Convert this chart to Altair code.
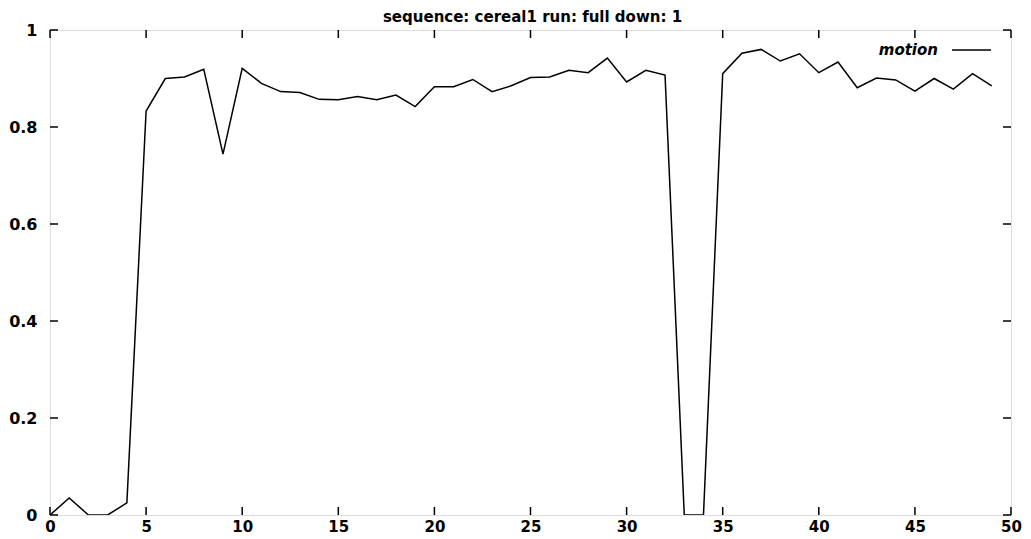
import altair as alt
import pandas as pd

frames = list(range(50))
motion = [0.0, 0.035, 0.0, 0.0, 0.025, 0.833, 0.900, 0.903, 0.919, 0.744,
          0.921, 0.890, 0.873, 0.871, 0.857, 0.856, 0.863, 0.856, 0.866, 0.842,
          0.883, 0.883, 0.898, 0.873, 0.885, 0.902, 0.903, 0.917, 0.912, 0.942,
          0.893, 0.917, 0.907, 0.0, 0.0, 0.910, 0.952, 0.960, 0.936, 0.951,
          0.912, 0.934, 0.881, 0.901, 0.897, 0.874, 0.900, 0.878, 0.910, 0.885]
x_ticks = [0, 5, 10, 15, 20, 25, 30, 35, 40, 45, 50]
y_ticks = [0, 0.2, 0.4, 0.6, 0.8, 1.0]
title_text = "sequence: cereal1 run: full down: 1"
series_name = "motion"

W, H = 961, 485
FONT = "DejaVu Sans"

df = pd.DataFrame({"frame": frames, "value": motion})
xt = pd.DataFrame({"t": x_ticks})
yt = pd.DataFrame({"t": y_ticks})

xscale = alt.Scale(domain=[0, 50], nice=False, zero=False)
yscale = alt.Scale(domain=[0, 1], nice=False)

line = alt.Chart(df).mark_line(color="black", strokeWidth=1.5, clip=True).encode(
    x=alt.X("frame:Q", scale=xscale, title=None,
            axis=alt.Axis(values=x_ticks, ticks=False, domain=False, grid=False,
                          labelFont=FONT, labelFontWeight="bold", labelFontSize=15,
                          labelColor="black", labelPadding=4, labelFlush=False,
                          format="d")),
    y=alt.Y("value:Q", scale=yscale, title=None,
            axis=alt.Axis(values=y_ticks, ticks=False, domain=False, grid=False,
                          labelFont=FONT, labelFontWeight="bold", labelFontSize=16,
                          labelColor="black", labelPadding=13, labelFlush=False,
                          format="~g")),
)

tick_len = 8
xb = alt.Chart(xt).mark_rule(color="black", strokeWidth=1.5).encode(
    x=alt.X("t:Q", scale=xscale), y=alt.value(H), y2=alt.value(H - tick_len))
xtop = alt.Chart(xt).mark_rule(color="black", strokeWidth=1.5).encode(
    x=alt.X("t:Q", scale=xscale), y=alt.value(0), y2=alt.value(tick_len))
yl = alt.Chart(yt).mark_rule(color="black", strokeWidth=1.5).encode(
    y=alt.Y("t:Q", scale=yscale), x=alt.value(0), x2=alt.value(tick_len))
yr = alt.Chart(yt).mark_rule(color="black", strokeWidth=1.5).encode(
    y=alt.Y("t:Q", scale=yscale), x=alt.value(W), x2=alt.value(W - tick_len))

leg = pd.DataFrame({"name": [series_name]})
leg_text = alt.Chart(leg).mark_text(
    align="right", baseline="middle", font=FONT, fontSize=15, fontStyle="italic",
    fontWeight="bold", color="black").encode(
    text="name:N", x=alt.value(888), y=alt.value(20))
leg_line = alt.Chart(leg).mark_rule(color="black", strokeWidth=1.5).encode(
    x=alt.value(902), x2=alt.value(941), y=alt.value(20))

ttl = pd.DataFrame({"t": [title_text]})
title_mark = alt.Chart(ttl).mark_text(
    align="center", baseline="alphabetic", font=FONT, fontSize=15,
    fontWeight="bold", color="black").encode(
    text="t:N", x=alt.value(W / 2 + 2), y=alt.value(-8))

chart = alt.layer(line, xb, xtop, yl, yr, leg_text, leg_line, title_mark).properties(
    width=W, height=H,
    autosize=alt.AutoSizeParams(type="none"),
    padding={"left": 42, "top": 22, "right": 12, "bottom": 24},
).configure_view(stroke="black", strokeWidth=1.5).configure(background="white")

chart.save("out.html", embed_options={"renderer": "svg", "actions": False})
